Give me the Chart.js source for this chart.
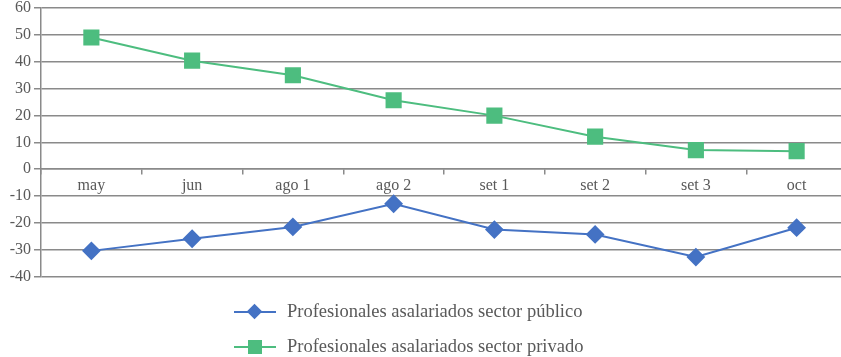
<!DOCTYPE html>
<html>
<head>
<meta charset="utf-8">
<script src="https://cdn.jsdelivr.net/npm/chart.js@4/dist/chart.umd.min.js"></script>
<style>
  html, body { margin: 0; padding: 0; background: #fff; overflow: hidden; }
  #wrap { position: absolute; left: 0; top: -5px; width: 859px; height: 362px; }
  .legend { position: absolute; left: 234px; font-family: "Liberation Serif", "Times New Roman", serif;
            font-size: 18.5px; color: #595959; display: flex; align-items: center; }
  .legend .sym { position: relative; width: 42px; height: 16px; margin-right: 11px; }
  .legend .sym .ln { position: absolute; left: 0; right: 0; top: 7px; height: 2px; }
  .legend .sym .mk { position: absolute; }
</style>
</head>
<body>
<div id="wrap"><canvas id="c"></canvas></div>
<div class="legend" style="top:301px">
  <div class="sym"><div class="ln" style="background:#4472c4"></div>
    <div class="mk" style="left:15px;top:2px;width:11px;height:11px;background:#4472c4;transform:rotate(45deg)"></div></div>
  <span id="lab0"></span>
</div>
<div class="legend" style="top:336px">
  <div class="sym"><div class="ln" style="background:#4dbd7f"></div>
    <div class="mk" style="left:14px;top:1px;width:14px;height:14px;background:#4dbd7f"></div></div>
  <span id="lab1"></span>
</div>
<script>
// Survey periods along the x axis
const periods = ['may', 'jun', 'ago 1', 'ago 2', 'set 1', 'set 2', 'set 3', 'oct'];
// Balance values per group
const publico = [-30.3, -25.8, -21.4, -12.8, -22.4, -24.2, -32.6, -21.7];
const privado = [48.9, 40.3, 34.9, 25.6, 19.9, 12.1, 7.1, 6.7];
const seriesNames = ['Profesionales asalariados sector público', 'Profesionales asalariados sector privado'];
const yTicks = { min: -40, max: 60, step: 10 };

document.getElementById('lab0').textContent = seriesNames[0];
document.getElementById('lab1').textContent = seriesNames[1];

const font = { family: '"Liberation Serif", "Times New Roman", serif', size: 16 };
const gridColor = '#8a8a8a';

new Chart(document.getElementById('c'), {
  type: 'line',
  data: {
    labels: periods,
    datasets: [
      { label: seriesNames[0], data: publico, borderColor: '#4472c4', backgroundColor: '#4472c4',
        borderWidth: 2, pointStyle: 'rectRot', pointRadius: 8, pointHoverRadius: 8, tension: 0 },
      { label: seriesNames[1], data: privado, borderColor: '#4dbd7f', backgroundColor: '#4dbd7f',
        borderWidth: 2, pointStyle: 'rect', pointRadius: 10, pointHoverRadius: 10, tension: 0 }
    ]
  },
  options: {
    responsive: true,
    maintainAspectRatio: false,
    animation: false,
    layout: { padding: { top: 2, bottom: 80, left: 0, right: 0 } },
    plugins: { legend: { display: false }, tooltip: { enabled: false } },
    scales: {
      x: {
        position: { y: 0 },
        offset: true,
        grid: { offset: true, drawOnChartArea: false, drawTicks: true, tickLength: 5, color: gridColor, lineWidth: 1.5 },
        border: { color: gridColor, width: 1.5 },
        ticks: { font, color: '#595959', padding: 2, maxRotation: 0 }
      },
      y: {
        min: yTicks.min, max: yTicks.max,
        afterFit: s => { s.width = 41; },
        grid: { color: gridColor, lineWidth: 1.5, tickLength: 7 },
        border: { color: gridColor, width: 1.5 },
        ticks: { stepSize: yTicks.step, font, color: '#595959', padding: 3 }
      }
    }
  }
});
</script>
</body>
</html>
